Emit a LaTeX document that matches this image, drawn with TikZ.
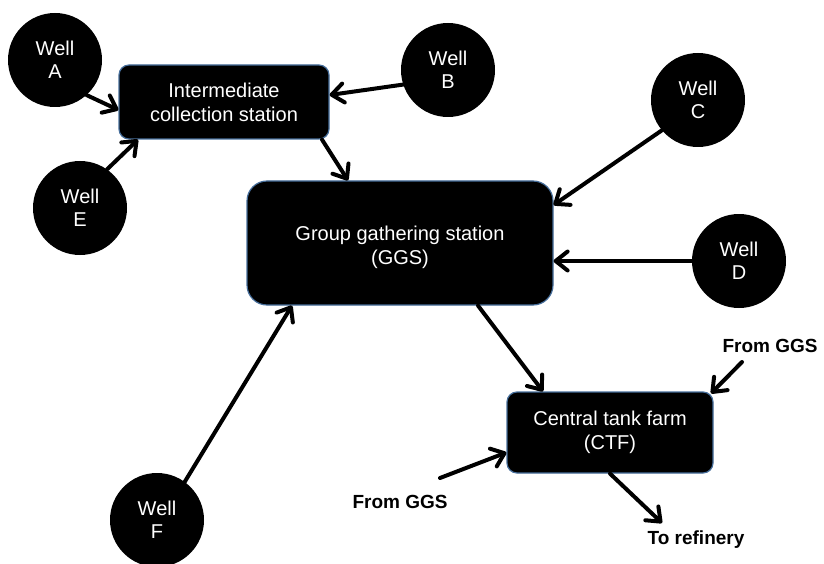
\documentclass[tikz,border=0pt]{standalone}
\usepackage{fontspec}
\setmainfont{Liberation Sans}
\usetikzlibrary{arrows.meta,calc}
\definecolor{boxedge}{RGB}{70,110,155}
\tikzset{
  well/.style={circle, fill=black, minimum size=94pt, inner sep=0pt,
    text=white, align=center, font=\fontsize{20}{23}\selectfont},
  station/.style={rectangle, rounded corners=#1, fill=black, draw=boxedge,
    line width=1.2pt, text=white, align=center, inner sep=0pt,
    font=\fontsize{20}{24}\selectfont},
  station/.default=10pt,
  flow/.style={line width=4pt, line cap=round,
    -{Straight Barb[length=12pt,width=19pt,round]}},
  tag/.style={font=\bfseries\fontsize{19}{22}\selectfont, inner sep=0pt}
}
\begin{document}
\begin{tikzpicture}[x=1pt,y=-1pt]
\useasboundingbox (0,0) rectangle (824,564);

% wells
\node[well] (A) at (55,60) {Well\\A};
\node[well] (B) at (448,70) {Well\\B};
\node[well] (C) at (698,100) {Well\\C};
\node[well] (D) at (739,261) {Well\\D};
\node[well] (E) at (80,208) {Well\\E};
\node[well] (F) at (157,520) {Well\\F};

% stations
\node[station, minimum width=210pt, minimum height=74pt] (ics) at (224,102)
  {Intermediate\\collection station};
\node[station=20pt, minimum width=306pt, minimum height=124pt,
  text height=48pt] (ggs) at (400,243)
  {Group gathering station\\(GGS)};
\node[station, minimum width=206pt, minimum height=81pt] (ctf) at (610,432.5)
  {Central tank farm\\(CTF)};

% free labels
\node[tag] (fromR) at (770,346) {From GGS};
\node[tag] (fromL) at (400,502) {From GGS};
\node[tag] (ref) at (696,540) {To refinery};
\coordinate (r1) at (742,362);
\coordinate (l1) at (440,478);
\coordinate (t1) at (662,523);

% flows
\draw[flow] (A.-48) -- ([yshift=-8pt]ics.west);
\draw[flow] (B.198) -- ([yshift=7pt]ics.east);
\draw[flow] (E.55) -- ([xshift=-86pt]ics.south);
\draw[flow] ([xshift=98pt]ics.south) -- ([xshift=-52pt]ggs.north);
\draw[flow] (C.220) -- ([yshift=38pt]ggs.east);
\draw[flow] (D.west) -- (ggs.east |- D.west);
\draw[flow] (F.54) -- ([xshift=-108pt]ggs.south);
\draw[flow] ([xshift=78pt]ggs.south) -- ([xshift=-67pt]ctf.north);
\draw[flow] (r1) -- ([xshift=101pt,yshift=-2pt]ctf.north);
\draw[flow] (l1) -- ([yshift=-20pt]ctf.west);
\draw[flow] (ctf.south) -- (t1);
\end{tikzpicture}
\end{document}
